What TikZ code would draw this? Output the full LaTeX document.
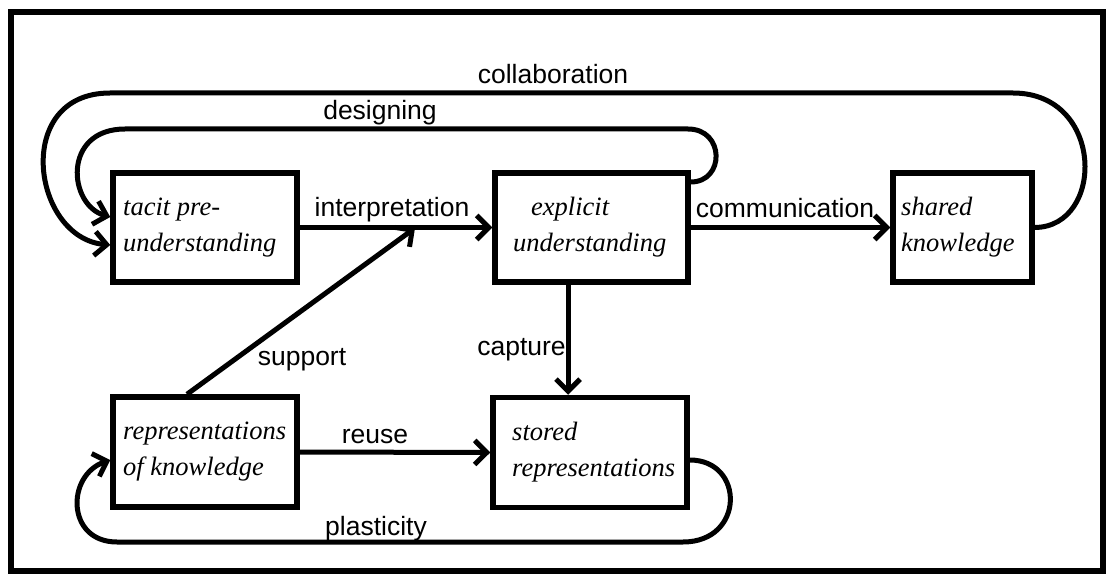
\documentclass[tikz,border=0pt]{standalone}
\usepackage{fontspec}
\setmainfont{Liberation Serif}
\setsansfont{Liberation Sans}
\usetikzlibrary{arrows.meta,calc}
\tikzset{
  boxnode/.style={draw, line width=5.5pt, inner sep=0pt, minimum height=109pt},
  boxtext/.style={font=\fontsize{26.5}{36}\selectfont\itshape, align=left, inner sep=0pt, anchor=west},
  lbl/.style={font=\fontsize{26.5}{30}\selectfont\sffamily, inner sep=0pt, anchor=base},
  conn/.style={line width=5pt, -{Straight Barb[length=12pt,width=24pt]}},
  frameline/.style={line width=6pt}
}
\begin{document}
\begin{tikzpicture}[x=1pt,y=-1pt]
\useasboundingbox (0,0) rectangle (1107,577);
\draw[frameline] (11,12) rectangle (1103,571);

% boxes
\node[boxnode, minimum width=184pt] (tacit) at (205,227.5) {};
\node[boxnode, minimum width=193pt] (explicit) at (591.5,227.5) {};
\node[boxnode, minimum width=139pt] (shared) at (962.5,227.5) {};
\node[boxnode, minimum width=184pt, minimum height=110pt] (rep) at (205,452) {};
\node[boxnode, minimum width=194pt, minimum height=110pt] (stored) at (590,452.5) {};

% box texts
\node[boxtext] (tacitT) at (123,227.5) {tacit pre-\\understanding};
\node[boxtext] (explicitT) at (513,227.5) {\hspace*{18pt}explicit\\understanding};
\node[boxtext] (sharedT) at (901,227.5) {shared\\knowledge};
\node[boxtext] (repT) at (123,452) {representations\\of knowledge};
\node[boxtext] (storedT) at (512,452.5) {stored\\representations};

% helper coordinates
\coordinate (capX) at (568,0);
\coordinate (supEnd) at (415,228);

% straight connectors
\draw[conn] (tacit.east) -- (explicit.west);
\draw[conn] (explicit.east) -- (explicit.east -| shared.west);
\draw[conn] (explicit.south -| capX) -- (stored.north -| capX);
\draw[conn] (rep.east) -- (stored.west);
\draw[conn] ([xshift=-18pt]rep.north) -- (supEnd);

% designing loop
\draw[conn] ([yshift=45.5pt]explicit.east) .. controls (725,182) and (725,129) .. (688,129)
  -- (125,129) .. controls (62,129) and (68,205) .. ([yshift=10.5pt]tacit.west);

% collaboration loop
\draw[conn] (shared.east) .. controls (1105,227) and (1105,93) .. (1013,93)
  -- (110,93) .. controls (12,93) and (32,238) .. ([yshift=-17.5pt]tacit.west);

% plasticity loop
\draw[conn] ([yshift=-7.5pt]stored.east) .. controls (745,460) and (745,542) .. (683,542)
  -- (117,542) .. controls (66,542) and (66,475) .. ([yshift=-8pt]rep.west);

% labels
\node[lbl] (lCollab) at (553,84) {collaboration};
\node[lbl] (lDesign) at (380,120) {designing};
\node[lbl] (lInterp) at (392,217) {interpretation};
\node[lbl] (lComm) at (785,218) {communication};
\node[lbl] (lSupport) at (302,365) {support};
\node[lbl] (lCapture) at (521.5,355) {capture};
\node[lbl] (lReuse) at (375,443) {reuse};
\node[lbl] (lPlast) at (376,535) {plasticity};
\end{tikzpicture}
\end{document}
